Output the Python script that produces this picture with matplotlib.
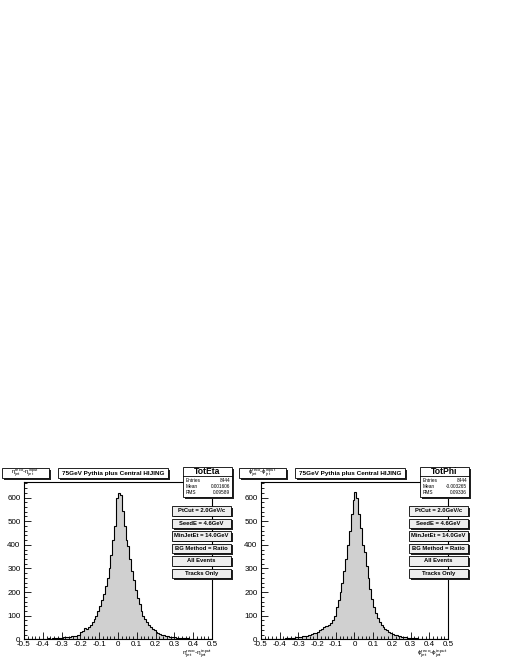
import numpy as np
import matplotlib
matplotlib.use('Agg')
import matplotlib.pyplot as plt
from matplotlib.patches import Rectangle
from matplotlib.ticker import MultipleLocator, FixedLocator, FixedFormatter

plt.rcParams['font.family'] = ['Liberation Sans', 'DejaVu Sans']
plt.rcParams['mathtext.fontset'] = 'custom'
plt.rcParams['mathtext.rm'] = 'Liberation Sans'
plt.rcParams['mathtext.it'] = 'Liberation Sans'

# 100 bins from -0.5 to 0.5
eta_counts = [0, 0, 1, 0, 1, 0, 0, 1, 1, 0,
              2, 3, 2, 4, 3, 4, 5, 5, 6, 6,
              7, 8, 9, 10, 10, 12, 13, 14, 17, 19,
              30, 35, 48, 44, 52, 60, 72, 85, 100, 118,
              140, 165, 190, 225, 260, 300, 355, 420, 480, 600,
              618, 610, 545, 480, 420, 395, 340, 290, 250, 210,
              175, 150, 120, 100, 85, 75, 60, 50, 42, 38,
              32, 28, 24, 20, 17, 15, 13, 11, 10, 9,
              8, 7, 6, 6, 5, 5, 4, 4, 3, 3,
              3, 2, 2, 2, 1, 1, 1, 1, 0, 1]

phi_counts = [0, 1, 0, 1, 1, 1, 1, 2, 1, 2,
              2, 3, 3, 4, 4, 5, 6, 7, 8, 9,
              10, 11, 13, 14, 16, 18, 20, 22, 25, 28,
              32, 38, 45, 52, 56, 58, 62, 70, 82, 100,
              135, 165, 200, 240, 290, 340, 400, 460, 530, 590,
              622, 600, 530, 470, 400, 370, 310, 260, 215, 170,
              135, 110, 90, 72, 60, 52, 45, 38, 32, 28,
              24, 20, 17, 15, 12, 10, 9, 8, 7, 6,
              5, 5, 4, 4, 3, 3, 3, 2, 2, 2,
              2, 1, 1, 1, 1, 0, 1, 0, 0, 0]

x_ticks = [-0.5, -0.4, -0.3, -0.2, -0.1, 0, 0.1, 0.2, 0.3, 0.4, 0.5]
x_tick_labels = ['-0.5', '-0.4', '-0.3', '-0.2', '-0.1', '0', '0.1', '0.2', '0.3', '0.4', '0.5']
y_ticks = [0, 100, 200, 300, 400, 500, 600]

title_text = '75GeV Pythia plus Central HIJING'
cut_texts = ['PtCut = 2.0GeV/c', 'SeedE = 4.6GeV', 'MinJetEt = 14.0GeV',
             'BG Method = Ratio', 'All Events', 'Tracks Only']

panels = [
    {'name': 'TotEta', 'counts': eta_counts, 'entries': '8444', 'mean': '0.001606', 'rms': '0.09589',
     'label': r'$\eta_{jet}^{reco}$-$\eta_{jet}^{input}$'},
    {'name': 'TotPhi', 'counts': phi_counts, 'entries': '8444', 'mean': '-0.003265', 'rms': '0.09336',
     'label': r'$\phi_{jet}^{reco}$-$\phi_{jet}^{input}$'},
]

W, H = 510, 660
fig = plt.figure(figsize=(W / 100, H / 100), dpi=100)
fig.patch.set_facecolor('white')

edges = np.linspace(-0.5, 0.5, 101)
ax_left_px = [24, 261]
ax_right_px = [212, 448]
ax_top, ax_bot = 482, 639.3

axes = []
for i, p in enumerate(panels):
    l = ax_left_px[i]
    r = ax_right_px[i]
    ax = fig.add_axes([l / W, (H - ax_bot) / H, (r - l) / W, (ax_bot - ax_top) / H])
    ax.stairs(p['counts'], edges, fill=True, color='#d0d0d0', zorder=1)
    ax.stairs(p['counts'], edges, color='black', lw=0.8, zorder=2)
    ax.set_xlim(-0.5, 0.5)
    ax.set_ylim(0, 666)
    ax.xaxis.set_major_locator(FixedLocator(x_ticks))
    ax.xaxis.set_major_formatter(FixedFormatter(x_tick_labels))
    ax.xaxis.set_minor_locator(MultipleLocator(0.02))
    ax.yaxis.set_major_locator(FixedLocator(y_ticks))
    ax.yaxis.set_minor_locator(MultipleLocator(20))
    ax.tick_params(which='both', direction='in', top=False, right=False, width=0.6,
                   labelsize=5.8, pad=1.5)
    ax.tick_params(axis='y', pad=2.5)
    ax.tick_params(which='major', length=5)
    ax.tick_params(which='minor', length=2.5)
    for s in ax.spines.values():
        s.set_linewidth(0.8)
    axes.append(ax)

# overlay in pixel coordinates for the ROOT-style pave boxes
ov = fig.add_axes([0, 0, 1, 1])
ov.set_xlim(0, W)
ov.set_ylim(H, 0)
ov.axis('off')


def pave(x0, y0, x1, y1, fc='white', shadow=1.6):
    ov.add_patch(Rectangle((x0 + shadow, y0 + shadow), x1 - x0, y1 - y0, fc='#222222', ec='none'))
    ov.add_patch(Rectangle((x0, y0), x1 - x0, y1 - y0, fc=fc, ec='black', lw=0.6))


for i, p in enumerate(panels):
    dx = 237 * i
    # y axis label box
    pave(2 + dx, 468, 49 + dx, 478)
    ov.text(25 + dx, 473, p['label'], ha='center', va='center', fontsize=4.2)
    # title box
    pave(58 + dx, 468, 168 + dx, 478)
    ov.text(113 + dx, 473.3, title_text, ha='center', va='center', fontsize=4.6, fontweight='bold')
    # stats box
    pave(183 + dx, 467, 232 + dx, 497)
    ov.plot([183 + dx, 232 + dx], [476, 476], color='black', lw=0.6)
    ov.text(207.5 + dx, 471.5, p['name'], ha='center', va='center', fontsize=6.2, fontweight='bold')
    for j, (k, v) in enumerate([('Entries', p['entries']), ('Mean', p['mean']), ('RMS', p['rms'])]):
        yy = 480.5 + 6 * j
        ov.text(185.5 + dx, yy, k, ha='left', va='center', fontsize=3.4)
        ov.text(230 + dx, yy, v, ha='right', va='center', fontsize=3.4)
    # cut boxes
    for j, t in enumerate(cut_texts):
        y0 = 506 + 12.5 * j
        pave(172 + dx, y0, 231 + dx, y0 + 9.5, fc='#eeeeee')
        ov.text(201.5 + dx, y0 + 4.9, t, ha='center', va='center', fontsize=4.2, fontweight='bold')
    # x axis label
    ov.text(ax_right_px[i], 653.5, p['label'], ha='right', va='center', fontsize=4.6)

fig.savefig('out.png', dpi=100, facecolor='white')
